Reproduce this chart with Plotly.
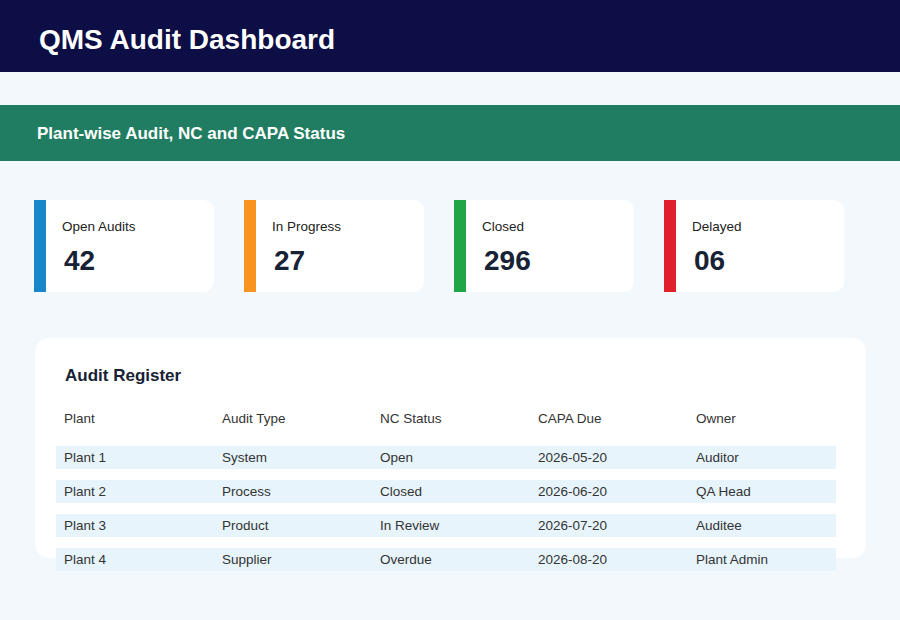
import plotly.graph_objects as go

title = "QMS Audit Dashboard"
subtitle = "Plant-wise Audit, NC and CAPA Status"
kpi_labels = ["Open Audits", "In Progress", "Closed", "Delayed"]
kpi_values = ["42", "27", "296", "06"]
kpi_colors = ["#1787c9", "#f7931e", "#20a646", "#e0202b"]
table_title = "Audit Register"
columns = ["Plant", "Audit Type", "NC Status", "CAPA Due", "Owner"]
plants = ["Plant 1", "Plant 2", "Plant 3", "Plant 4"]
audit_types = ["System", "Process", "Product", "Supplier"]
nc_status = ["Open", "Closed", "In Review", "Overdue"]
capa_due = ["2026-05-20", "2026-06-20", "2026-07-20", "2026-08-20"]
owners = ["Auditor", "QA Head", "Auditee", "Plant Admin"]

FONT = "Liberation Sans, Arial, sans-serif"

def rrect(x0, y0, x1, y1, r, color):
    p = (f"M{x0+r},{y0} L{x1-r},{y0} Q{x1},{y0} {x1},{y0+r} L{x1},{y1-r} Q{x1},{y1} {x1-r},{y1} "
         f"L{x0+r},{y1} Q{x0},{y1} {x0},{y1-r} L{x0},{y0+r} Q{x0},{y0} {x0+r},{y0} Z")
    return dict(type="path", path=p, fillcolor=color, line=dict(width=0), layer="below")

shapes = [
    dict(type="rect", x0=0, x1=900, y0=0, y1=72, fillcolor="#0c0e45", line=dict(width=0), layer="below"),
    dict(type="rect", x0=0, x1=900, y0=105, y1=161, fillcolor="#217d62", line=dict(width=0), layer="below"),
]
ann = []
def text(x, y, s, size, color, bold=False):
    ann.append(dict(x=x, y=y, text=f"<b>{s}</b>" if bold else s, showarrow=False, xanchor="left",
                    yanchor="middle", font=dict(size=size, color=color, family=FONT)))

text(37, 39, title, 28, "white", True)
text(35, 133, subtitle, 17, "white", True)

for i, (lab, val, col) in enumerate(zip(kpi_labels, kpi_values, kpi_colors)):
    x0 = 34 + 210 * i
    shapes.append(rrect(x0, 200, x0 + 180, 292, 12, "white"))
    shapes.append(dict(type="rect", x0=x0, x1=x0 + 12, y0=200, y1=292, fillcolor=col, line=dict(width=0)))
    text(x0 + 26, 226, lab, 13.5, "#222222")
    text(x0 + 28, 260, val, 28, "#182235", True)

shapes.append(rrect(35, 338, 866, 558, 16, "white"))
text(63, 375, table_title, 17, "#182235", True)
colx = [62, 220, 378, 536, 694]
for cx, c in zip(colx, columns):
    text(cx, 418, c, 13.5, "#333333")
for r, row in enumerate(zip(plants, audit_types, nc_status, capa_due, owners)):
    yc = 457.5 + 34 * r
    shapes.append(dict(type="rect", x0=56, x1=836, y0=yc - 11.5, y1=yc + 11.5,
                       fillcolor="#e7f4fc", line=dict(width=0)))
    for cx, v in zip(colx, row):
        text(cx, yc, v, 13.5, "#333333")

fig = go.Figure()
fig.update_layout(width=900, height=620, margin=dict(l=0, r=0, t=0, b=0),
                  paper_bgcolor="#f3f8fc", plot_bgcolor="#f3f8fc",
                  xaxis=dict(range=[0, 900], visible=False, fixedrange=True),
                  yaxis=dict(range=[620, 0], visible=False, fixedrange=True),
                  shapes=shapes, annotations=ann, showlegend=False)
fig.write_html("out.html", config={"displayModeBar": False},
               post_script="document.body.style.margin='0';document.body.style.background='#f3f8fc';")
